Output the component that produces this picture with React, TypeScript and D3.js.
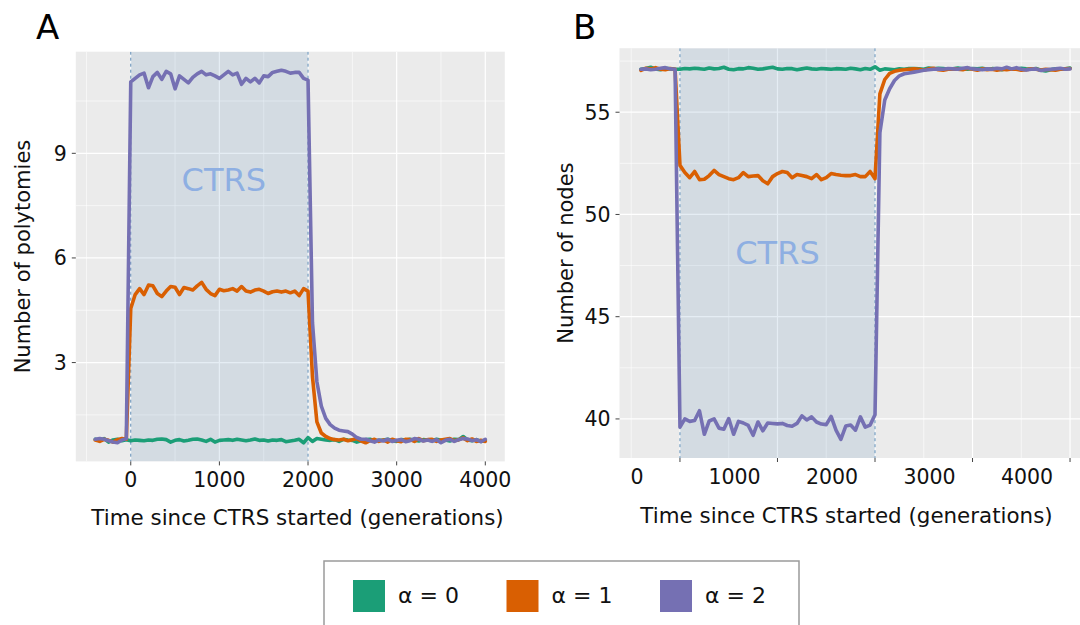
import React from 'react';
import * as d3 from 'd3';

// Sampling times (generations since CTRS started)
const TIMES: number[] = d3.range(-400, 4001, 50);

// Panel A: number of polytomies
const polyAlpha0 = [
  0.80, 0.76, 0.82, 0.72, 0.78, 0.80, 0.76, 0.79,
  0.76, 0.78, 0.77, 0.76, 0.78, 0.77, 0.80, 0.81, 0.79, 0.72,
  0.77, 0.79, 0.75, 0.77, 0.80, 0.81, 0.78, 0.74, 0.80, 0.72,
  0.77, 0.78, 0.79, 0.77, 0.80, 0.78, 0.76, 0.78, 0.81, 0.77,
  0.78, 0.75, 0.78, 0.77, 0.79, 0.73, 0.75, 0.77, 0.80, 0.70,
  0.85,
  0.74, 0.82, 0.80, 0.78, 0.77, 0.79, 0.74, 0.80, 0.78, 0.77,
  0.72, 0.76, 0.79, 0.80, 0.75, 0.77, 0.78, 0.80, 0.76, 0.74,
  0.79, 0.78, 0.80, 0.77, 0.75, 0.79, 0.78, 0.76, 0.80, 0.77,
  0.78, 0.75, 0.80, 0.79, 0.88, 0.78, 0.76, 0.79, 0.74, 0.77,
];
const polyAlpha1 = [
  0.78, 0.74, 0.80, 0.77, 0.72, 0.79, 0.82, 0.80,
  4.55, 4.95, 5.12, 4.95, 5.22, 5.20, 4.98, 4.89, 5.05, 5.18,
  5.16, 4.95, 5.15, 5.12, 5.08, 5.20, 5.30, 5.10, 4.98, 4.92,
  5.10, 5.06, 5.08, 5.12, 5.05, 5.18, 5.05, 5.02, 5.08, 5.10,
  5.05, 4.98, 5.03, 5.05, 5.02, 5.05, 5.00, 5.05, 4.92, 5.12,
  5.05,
  2.60, 1.30, 0.98, 0.88, 0.82, 0.79, 0.78, 0.80, 0.76, 0.79,
  0.82, 0.75, 0.70, 0.76, 0.80, 0.74, 0.78, 0.72, 0.80, 0.76,
  0.73, 0.80, 0.79, 0.74, 0.82, 0.76, 0.79, 0.80, 0.74, 0.78,
  0.80, 0.82, 0.76, 0.79, 0.84, 0.76, 0.81, 0.74, 0.77, 0.74,
];
const polyAlpha2 = [
  0.80, 0.82, 0.80, 0.76, 0.72, 0.70, 0.78, 0.82,
  11.05, 11.15, 11.25, 11.30, 10.88, 11.20, 11.32, 11.12, 11.35, 11.28,
  10.85, 11.22, 11.12, 11.02, 11.18, 11.28, 11.35, 11.25, 11.28, 11.22,
  11.15, 11.25, 11.35, 11.25, 11.30, 10.98, 11.15, 11.05, 11.15, 11.02,
  11.22, 11.20, 11.32, 11.35, 11.38, 11.35, 11.30, 11.32, 11.32, 11.15,
  11.10,
  4.15, 2.45, 1.75, 1.40, 1.22, 1.12, 1.06, 1.04, 1.02, 0.95,
  0.85, 0.80, 0.80, 0.76, 0.72, 0.78, 0.75, 0.80, 0.74, 0.77,
  0.79, 0.73, 0.76, 0.82, 0.80, 0.75, 0.78, 0.74, 0.79, 0.70,
  0.77, 0.80, 0.74, 0.79, 0.82, 0.81, 0.76, 0.79, 0.73, 0.80,
];

// Panel B: number of nodes
const nodesAlpha0 = [
  57.10, 57.14, 57.20, 57.12, 57.08, 57.15, 57.12, 57.10,
  57.10, 57.14, 57.12, 57.15, 57.13, 57.10, 57.16, 57.12, 57.14, 57.20,
  57.10, 57.08, 57.13, 57.12, 57.18, 57.15, 57.10, 57.12, 57.16, 57.20,
  57.12, 57.10, 57.14, 57.13, 57.08, 57.12, 57.16, 57.12, 57.10, 57.14,
  57.12, 57.10, 57.13, 57.12, 57.10, 57.15, 57.12, 57.08, 57.14, 57.10,
  57.22,
  57.05, 57.12, 57.10, 57.08, 57.12, 57.10, 57.14, 57.13, 57.12, 57.10,
  57.16, 57.12, 57.15, 57.14, 57.10, 57.12, 57.16, 57.12, 57.10, 57.14,
  57.12, 57.15, 57.10, 57.13, 57.12, 57.08, 57.14, 57.12, 57.10, 57.15,
  57.12, 57.10, 57.14, 57.05, 57.02, 57.08, 57.12, 57.10, 57.13, 57.16,
];
const nodesAlpha1 = [
  57.05, 57.15, 57.12, 57.18, 57.10, 57.08, 57.14, 57.10,
  52.40, 52.05, 51.80, 52.10, 51.70, 51.72, 51.90, 52.15, 51.95, 51.85,
  51.75, 51.70, 51.80, 52.05, 51.85, 51.88, 51.90, 51.65, 51.50, 51.85,
  52.00, 52.10, 52.05, 51.80, 51.95, 51.90, 51.85, 51.75, 51.95, 51.70,
  51.80, 52.00, 51.95, 51.92, 51.90, 51.90, 51.95, 51.85, 51.85, 52.10,
  51.75,
  55.90, 56.60, 56.90, 57.00, 57.05, 57.08, 57.10, 57.12, 57.10, 57.05,
  57.12, 57.15, 57.08, 57.05, 57.10, 57.12, 57.10, 57.08, 57.15, 57.10,
  57.05, 57.12, 57.08, 57.10, 57.05, 57.10, 57.08, 57.12, 57.10, 57.05,
  57.08, 57.12, 57.10, 57.06, 57.10, 57.08, 57.05, 57.10, 57.12, 57.14,
];
const nodesAlpha2 = [
  57.10, 57.12, 57.08, 57.10, 57.15, 57.18, 57.12, 57.10,
  39.60, 40.00, 39.88, 39.92, 40.40, 39.25, 39.90, 40.00, 39.55, 39.50,
  40.02, 39.25, 39.88, 39.80, 39.68, 39.20, 39.85, 39.42, 39.80, 39.78,
  39.76, 39.78, 39.68, 39.64, 39.78, 40.15, 39.95, 40.10, 39.85, 39.75,
  39.72, 40.12, 39.45, 39.00, 39.65, 39.70, 39.45, 40.10, 39.60, 39.70,
  40.20,
  54.00, 55.60, 56.15, 56.55, 56.78, 56.88, 56.92, 56.96, 57.00, 57.05,
  57.08, 57.10, 57.12, 57.10, 57.14, 57.12, 57.10, 57.15, 57.18, 57.12,
  57.10, 57.08, 57.12, 57.10, 57.15, 57.12, 57.20, 57.12, 57.18, 57.10,
  57.06, 57.10, 57.12, 57.04, 57.08, 57.10, 57.12, 57.15, 57.10, 57.12,
];

const CTRS_START = 0;
const CTRS_END = 2000;
const X_TICKS = [0, 1000, 2000, 3000, 4000];
const X_MINOR = [-500, 500, 1500, 2500, 3500, 4500];
const Y_TICKS_A = [3, 6, 9];
const Y_MINOR_A = [1.5, 4.5, 7.5, 10.5];
const Y_TICKS_B = [40, 45, 50, 55];
const Y_MINOR_B = [42.5, 47.5, 52.5, 57.5];
const SERIES_LABELS = ['α = 0', 'α = 1', 'α = 2'];
const COLORS = ['#1b9e77', '#d95f02', '#7570b3'];

const FONT = "'DejaVu Sans', Verdana, sans-serif";

type PanelProps = {
  letter: string;
  letterX: number;
  left: number;
  right: number;
  top: number;
  bottom: number;
  series: number[][];
  yTicks: number[];
  yMinor: number[];
  yTitle: string;
  yTitleX: number;
  xLabelShift: number;
  xLabelBaseline: number;
  xTitleX: number;
  xTitleBaseline: number;
  ctrsX: number;
  ctrsY: number;
};

function Panel(p: PanelProps) {
  const tMin = d3.min(TIMES)!;
  const tMax = d3.max(TIMES)!;
  const tPad = (tMax - tMin) * 0.05;
  const x = d3.scaleLinear().domain([tMin - tPad, tMax + tPad]).range([p.left, p.right]);
  const all = p.series.flat();
  const vMin = d3.min(all)!;
  const vMax = d3.max(all)!;
  const vPad = (vMax - vMin) * 0.05;
  const y = d3.scaleLinear().domain([vMin - vPad, vMax + vPad]).range([p.bottom, p.top]);
  const line = d3
    .line<number>()
    .x((_, i) => x(TIMES[i]))
    .y((d) => y(d));
  const clipId = 'clip-' + p.letter;
  const yMid = (p.top + p.bottom) / 2;
  return (
    <g>
      <defs>
        <clipPath id={clipId}>
          <rect x={p.left} y={p.top} width={p.right - p.left} height={p.bottom - p.top} />
        </clipPath>
      </defs>
      <text x={p.letterX} y={39} fontSize={34} fill="#000" fontFamily={FONT}>
        {p.letter}
      </text>
      <rect x={p.left} y={p.top} width={p.right - p.left} height={p.bottom - p.top} fill="#ebebeb" />
      <g clipPath={`url(#${clipId})`}>
        {p.yMinor.map((v) => (
          <line key={'ym' + v} x1={p.left} x2={p.right} y1={y(v)} y2={y(v)} stroke="#fff" strokeWidth={0.6} />
        ))}
        {X_MINOR.map((v) => (
          <line key={'xm' + v} x1={x(v)} x2={x(v)} y1={p.top} y2={p.bottom} stroke="#fff" strokeWidth={0.6} />
        ))}
        {p.yTicks.map((v) => (
          <line key={'yM' + v} x1={p.left} x2={p.right} y1={y(v)} y2={y(v)} stroke="#fff" strokeWidth={1.2} />
        ))}
        {X_TICKS.map((v) => (
          <line key={'xM' + v} x1={x(v)} x2={x(v)} y1={p.top} y2={p.bottom} stroke="#fff" strokeWidth={1.2} />
        ))}
        <rect
          x={x(CTRS_START)}
          y={p.top}
          width={x(CTRS_END) - x(CTRS_START)}
          height={p.bottom - p.top}
          fill="#4682b4"
          fillOpacity={0.14}
        />
        {[CTRS_START, CTRS_END].map((v) => (
          <line
            key={'d' + v}
            x1={x(v)}
            x2={x(v)}
            y1={p.top}
            y2={p.bottom}
            stroke="#5f8db5"
            strokeWidth={1}
            strokeDasharray="3,3"
          />
        ))}
        <text
          x={x(p.ctrsX)}
          y={y(p.ctrsY)}
          textAnchor="middle"
          fontSize={32}
          fill="#8eafe2"
          fontFamily={FONT}
        >
          CTRS
        </text>
        {p.series.map((s, i) => (
          <path
            key={'s' + i}
            d={line(s) || ''}
            fill="none"
            stroke={COLORS[i]}
            strokeWidth={3.6}
            strokeLinejoin="round"
            strokeLinecap="round"
          />
        ))}
      </g>
      {X_TICKS.map((v) => (
        <g key={'xt' + v}>
          <line x1={x(v)} x2={x(v)} y1={p.bottom} y2={p.bottom + 4} stroke="#444" strokeWidth={1} />
          <text
            x={x(v) + p.xLabelShift}
            y={p.xLabelBaseline}
            textAnchor="middle"
            fontSize={20.5}
            fill="#111"
            fontFamily={FONT}
          >
            {v}
          </text>
        </g>
      ))}
      {p.yTicks.map((v) => (
        <g key={'yt' + v}>
          <line x1={p.left - 4} x2={p.left} y1={y(v)} y2={y(v)} stroke="#444" strokeWidth={1} />
          <text
            x={p.left - 9}
            y={y(v)}
            dy="0.36em"
            textAnchor="end"
            fontSize={20.5}
            fill="#111"
            fontFamily={FONT}
          >
            {v}
          </text>
        </g>
      ))}
      <text
        x={p.xTitleX}
        y={p.xTitleBaseline}
        textAnchor="middle"
        fontSize={21.4}
        fill="#111"
        fontFamily={FONT}
      >
        Time since CTRS started (generations)
      </text>
      <text
        transform={`translate(${p.yTitleX},${yMid}) rotate(-90)`}
        textAnchor="middle"
        fontSize={21}
        fill="#111"
        fontFamily={FONT}
      >
        {p.yTitle}
      </text>
    </g>
  );
}

function Legend() {
  const boxX = 324;
  const boxY = 561;
  const itemX0 = 353;
  const itemStep = 153.5;
  return (
    <g>
      <rect x={boxX} y={boxY} width={475} height={80} fill="#fff" stroke="#9a9a9a" strokeWidth={1.5} />
      {SERIES_LABELS.map((lab, i) => (
        <g key={lab}>
          <rect x={itemX0 + i * itemStep} y={580} width={32} height={32} fill={COLORS[i]} />
          <text
            x={itemX0 + i * itemStep + 45}
            y={603}
            fontSize={22}
            fill="#111"
            fontFamily={FONT}
          >
            {lab}
          </text>
        </g>
      ))}
    </g>
  );
}

export default function App() {
  return (
    <svg
      width={1080}
      height={625}
      style={{ position: 'fixed', left: 0, top: 0, background: '#fff' }}
    >
      <rect x={0} y={0} width={1080} height={625} fill="#fff" />
      <Panel
        letter="A"
        letterX={36}
        left={75.8}
        right={504.8}
        top={51.7}
        bottom={461.4}
        series={[polyAlpha0, polyAlpha1, polyAlpha2]}
        yTicks={Y_TICKS_A}
        yMinor={Y_MINOR_A}
        yTitle="Number of polytomies"
        yTitleX={29.5}
        xLabelShift={0}
        xLabelBaseline={487}
        xTitleX={297.5}
        xTitleBaseline={525}
        ctrsX={1050}
        ctrsY={7.93}
      />
      <Panel
        letter="B"
        letterX={573}
        left={619.5}
        right={1091.5}
        top={48.2}
        bottom={458}
        series={[nodesAlpha0, nodesAlpha1, nodesAlpha2]}
        yTicks={Y_TICKS_B}
        yMinor={Y_MINOR_B}
        yTitle="Number of nodes"
        yTitleX={573.4}
        xLabelShift={-43}
        xLabelBaseline={484}
        xTitleX={846.5}
        xTitleBaseline={523}
        ctrsX={1000}
        ctrsY={47.6}
      />
      <Legend />
    </svg>
  );
}
